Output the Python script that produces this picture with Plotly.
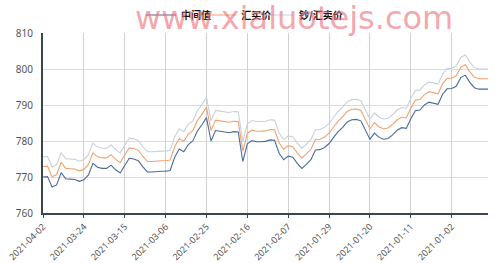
import pandas as pd
import plotly.graph_objects as go

# Dates (descending, daily)
dates = [d.strftime("%Y-%m-%d") for d in pd.date_range("2020-12-25", "2021-04-02", freq="D")][::-1]

mid_rate = [770.0, 770.1, 767.2, 767.8, 771.2, 769.5, 769.4, 769.3, 768.8, 769.2,
            770.6, 773.8, 772.7, 772.4, 772.4, 773.3, 772.0, 771.1, 773.2, 775.2,
            775.0, 774.5, 772.8, 771.4, 771.4, 771.6, 771.6, 771.6, 771.8, 775.5,
            777.8, 777.0, 779.0, 780.0, 782.8, 784.5, 786.5, 780.0, 782.9, 782.7,
            782.4, 782.3, 782.6, 782.5, 774.3, 779.2, 780.1, 779.8, 779.8, 779.9,
            780.3, 780.2, 776.6, 774.8, 775.8, 775.5, 773.8, 772.4, 773.5, 774.8,
            777.5, 777.6, 778.2, 779.3, 781.0, 782.6, 783.8, 785.3, 785.9, 786.0,
            785.6, 782.8, 780.5, 782.2, 781.0, 780.5, 780.7, 781.7, 783.0, 783.7,
            783.5, 786.2, 788.4, 788.6, 790.0, 790.8, 790.6, 790.2, 793.0, 794.5,
            794.6, 795.2, 797.6, 798.3, 796.3, 794.8, 794.4, 794.4, 794.4]

buy_rate = [772.9, 773.0, 770.1, 770.7, 774.1, 772.4, 772.3, 772.2, 771.7, 772.1,
            773.5, 776.7, 775.6, 775.3, 775.3, 776.2, 774.9, 774.0, 776.1, 778.1,
            777.9, 777.4, 775.7, 774.3, 774.3, 774.5, 774.5, 774.5, 774.7, 778.4,
            780.7, 779.9, 781.9, 782.9, 785.7, 787.4, 789.4, 782.9, 785.8, 785.6,
            785.3, 785.2, 785.5, 785.4, 777.2, 782.1, 783.0, 782.7, 782.7, 782.8,
            783.2, 783.1, 779.5, 777.7, 778.7, 778.4, 776.7, 775.3, 776.4, 777.7,
            780.4, 780.5, 781.1, 782.2, 783.9, 785.5, 786.7, 788.2, 788.8, 788.9,
            788.5, 785.7, 783.4, 785.1, 783.9, 783.4, 783.6, 784.6, 785.9, 786.6,
            786.4, 789.1, 791.3, 791.5, 792.9, 793.7, 793.5, 793.1, 795.9, 797.4,
            797.5, 798.1, 800.5, 801.2, 799.2, 797.7, 797.3, 797.3, 797.3]

sell_rate = [775.6, 775.7, 772.8, 773.4, 776.8, 775.1, 775.0, 774.9, 774.4, 774.8,
             776.2, 779.4, 778.3, 778.0, 778.0, 778.9, 777.6, 776.7, 778.8, 780.8,
             780.6, 780.1, 778.4, 777.0, 777.0, 777.2, 777.2, 777.2, 777.4, 781.1,
             783.4, 782.6, 784.6, 785.6, 788.4, 790.1, 792.1, 785.6, 788.5, 788.3,
             788.0, 787.9, 788.2, 788.1, 779.9, 784.8, 785.7, 785.4, 785.4, 785.5,
             785.9, 785.8, 782.2, 780.4, 781.4, 781.1, 779.4, 778.0, 779.1, 780.4,
             783.1, 783.2, 783.8, 784.9, 786.6, 788.2, 789.4, 790.9, 791.5, 791.6,
             791.2, 788.4, 786.1, 787.8, 786.6, 786.1, 786.3, 787.3, 788.6, 789.3,
             789.1, 791.8, 794.0, 794.2, 795.6, 796.4, 796.2, 795.8, 798.6, 800.1,
             800.2, 800.8, 803.2, 803.9, 801.9, 800.4, 800.0, 800.0, 800.0]

series_names = ["中间值", "汇买价", "钞/汇卖价"]
series_colors = ["#4a6a9c", "#f2a26e", "#c9cfdb"]
legend_ids = ["legend", "legend2", "legend3"]
legend_x = [0.283, 0.404, 0.520]
tick_labels = dates[::9]

fig = go.Figure()
for name, vals, col, lg in zip(series_names, [mid_rate, buy_rate, sell_rate], series_colors, legend_ids):
    fig.add_trace(go.Scatter(x=dates, y=vals, name=name, mode="lines", legend=lg,
                             line=dict(color=col, width=1.1)))

legend_style = dict(orientation="h", xanchor="left", xref="container",
                    yref="container", y=0.943, yanchor="middle",
                    font=dict(family="Noto Sans CJK SC", size=10, color="#111", weight=600),
                    itemwidth=30, bgcolor="rgba(0,0,0,0)")

fig.update_layout(
    width=498, height=263,
    margin=dict(l=43, r=10, t=33, b=50, autoexpand=False),
    paper_bgcolor="white", plot_bgcolor="white",
    showlegend=True,
    annotations=[dict(text="www.xialuotejs.com", xref="paper", yref="paper",
                      x=0.565, y=1.085, showarrow=False, xanchor="center", yanchor="middle",
                      font=dict(family="DejaVu Sans", size=32, color="rgba(238,110,120,0.62)"))],
)
for lg, lx in zip(legend_ids, legend_x):
    fig.update_layout({lg: dict(legend_style, x=lx)})

fig.update_xaxes(type="category", range=[0, len(dates) - 1],
                 tickmode="array", tickvals=tick_labels, ticktext=tick_labels,
                 tickangle=-45, tickfont=dict(family="Noto Sans", size=9, color="#555"),
                 showgrid=True, gridcolor="#d0d0d0", gridwidth=1,
                 showline=True, linecolor="#3a4654", linewidth=2,
                 ticks="outside", ticklen=3, tickcolor="#3a4654")
fig.update_yaxes(range=[760, 810], dtick=10,
                 tickfont=dict(family="Noto Sans", size=10, color="#555"),
                 showgrid=True, gridcolor="#dcdcdc", gridwidth=1,
                 showline=True, linecolor="#3a4654", linewidth=2,
                 zeroline=False, ticks="", ticklabelstandoff=6)

fig.write_html("out.html")
